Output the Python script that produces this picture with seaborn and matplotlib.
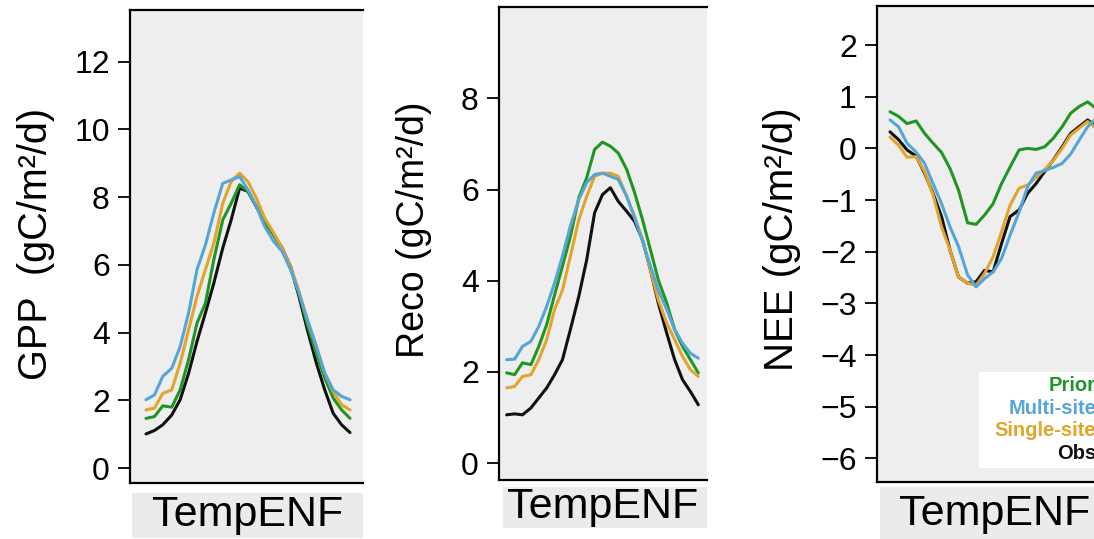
import matplotlib
matplotlib.use("Agg")
import matplotlib.pyplot as plt
import numpy as np
import pandas as pd
import seaborn as sns
from matplotlib.patches import Rectangle

# ---------------- data ----------------
doy = [1, 16, 31, 47, 62, 77, 92, 107, 122, 138, 153, 168, 183,
       198, 213, 229, 244, 259, 274, 289, 305, 320, 335, 350, 365]

runs = ["Obs", "Prior", "Single-site", "Multi-site"]
colors = {"Obs": "#111111", "Prior": "#1f9624", "Single-site": "#e2a42a", "Multi-site": "#55a5d6"}

gpp_obs = [1.01, 1.11, 1.28, 1.57, 2.02, 2.80, 3.74, 4.58, 5.46, 6.50, 7.33, 8.27, 8.17,
           7.72, 7.28, 6.89, 6.50, 5.95, 5.07, 4.08, 3.10, 2.31, 1.62, 1.28, 1.05]
gpp_prior = [1.47, 1.52, 1.84, 1.80, 2.31, 3.20, 4.28, 4.87, 6.15, 7.33, 7.82, 8.37, 8.17,
             7.72, 7.28, 6.89, 6.45, 5.95, 5.17, 4.23, 3.39, 2.66, 2.07, 1.72, 1.47]
gpp_single = [1.72, 1.77, 2.21, 2.31, 3.10, 4.08, 5.07, 5.86, 6.64, 7.82, 8.46, 8.71, 8.46,
              7.97, 7.38, 6.94, 6.50, 5.95, 5.21, 4.38, 3.59, 2.80, 2.26, 1.87, 1.72]
gpp_multi = [2.02, 2.16, 2.71, 2.95, 3.59, 4.58, 5.86, 6.59, 7.53, 8.41, 8.51, 8.61, 8.22,
             7.72, 7.13, 6.69, 6.40, 5.86, 5.17, 4.38, 3.59, 2.80, 2.31, 2.12, 2.02]

reco_obs = [1.06, 1.08, 1.06, 1.21, 1.43, 1.65, 1.94, 2.27, 2.93, 3.66, 4.46, 5.49, 5.89,
            6.04, 5.74, 5.52, 5.30, 4.90, 4.24, 3.51, 2.85, 2.27, 1.83, 1.57, 1.28]
reco_prior = [1.98, 1.94, 2.20, 2.16, 2.56, 3.04, 3.69, 4.32, 4.97, 5.82, 6.26, 6.88, 7.04,
              6.95, 6.80, 6.44, 5.93, 5.34, 4.68, 4.02, 3.51, 2.93, 2.56, 2.27, 1.98]
reco_single = [1.65, 1.68, 1.90, 1.94, 2.27, 2.71, 3.37, 3.80, 4.54, 5.34, 5.85, 6.29, 6.36,
               6.36, 6.29, 5.85, 5.41, 4.90, 4.24, 3.58, 3.07, 2.71, 2.34, 2.05, 1.90]
reco_multi = [2.27, 2.28, 2.56, 2.67, 3.00, 3.44, 3.95, 4.54, 5.20, 5.78, 6.15, 6.33, 6.36,
              6.29, 6.22, 5.85, 5.38, 4.87, 4.32, 3.80, 3.37, 2.93, 2.63, 2.41, 2.30]

nee_obs = [0.32, 0.17, -0.03, -0.15, -0.48, -0.87, -1.32, -1.97, -2.49, -2.61, -2.58, -2.36, -2.39,
           -1.84, -1.32, -1.19, -0.87, -0.68, -0.45, -0.23, 0.03, 0.29, 0.42, 0.55, 0.42]
nee_prior = [0.71, 0.62, 0.48, 0.53, 0.29, 0.10, -0.08, -0.39, -0.81, -1.44, -1.47, -1.29, -1.07,
             -0.68, -0.36, -0.03, 0.00, -0.02, 0.03, 0.19, 0.42, 0.68, 0.81, 0.90, 0.77]
nee_single = [0.22, 0.06, -0.17, -0.16, -0.45, -0.90, -1.52, -1.97, -2.49, -2.61, -2.65, -2.42, -2.10,
              -1.61, -1.10, -0.77, -0.71, -0.56, -0.41, -0.24, 0.00, 0.26, 0.39, 0.52, 0.39]
nee_multi = [0.55, 0.42, 0.10, -0.07, -0.29, -0.68, -1.07, -1.52, -1.90, -2.45, -2.68, -2.52, -2.39,
             -2.13, -1.68, -1.23, -0.74, -0.48, -0.43, -0.37, -0.29, -0.11, 0.16, 0.42, 0.58]

gpp_ticks = [0, 2, 4, 6, 8, 10, 12]
reco_ticks = [0, 2, 4, 6, 8]
nee_ticks = [-6, -5, -4, -3, -2, -1, 0, 1, 2]

strip_label = "TempENF"
ylabels = ["GPP  (gC/m\u00b2/d)", "Reco (gC/m\u00b2/d)", "NEE (gC/m\u00b2/d)"]
legend_labels = ["Prior", "Multi-site", "Single-site", "Obs"]

# ---------------- style ----------------
sns.set_style("ticks")
plt.rcParams["font.family"] = ["Liberation Sans", "DejaVu Sans"]
plt.rcParams["text.color"] = "black"
plt.rcParams["axes.labelcolor"] = "black"
plt.rcParams["ytick.color"] = "black"
plt.rcParams["xtick.color"] = "black"

W, H = 1094, 539
fig = plt.figure(figsize=(W / 100, H / 100), dpi=100)


def fx(px):
    return px / W


def fy(py):
    return 1 - py / H


def make_df(obs, prior, single, multi):
    frames = []
    for name, vals in zip(runs, [obs, prior, single, multi]):
        frames.append(pd.DataFrame({"doy": doy, "value": vals, "run": name}))
    return pd.concat(frames, ignore_index=True)


panels = [
    dict(box=(130, 9.6, 363, 482.7), data=make_df(gpp_obs, gpp_prior, gpp_single, gpp_multi),
         ylim=(-0.43, 13.54), xlim=(-27.5, 388.2), ticks=gpp_ticks,
         strip=(132, 493, 363, 538), text_xy=(247.5, 515), ylab_x=36, ylab_y=244, ylab_fs=28.5),
    dict(box=(499, 6.7, 707, 480), data=make_df(reco_obs, reco_prior, reco_single, reco_multi),
         ylim=(-0.37, 10.01), xlim=(-13.6, 381.5), ticks=reco_ticks,
         strip=(503, 487, 707, 528), text_xy=(603, 507), ylab_x=414, ylab_y=230, ylab_fs=27),
    dict(box=(877, 6.0, 1100, 481.7), data=make_df(nee_obs, nee_prior, nee_single, nee_multi),
         ylim=(-6.45, 2.755), xlim=(-22.0, 371.8), ticks=nee_ticks,
         strip=(880, 487, 1100, 539), text_xy=(995, 514), ylab_x=782, ylab_y=239, ylab_fs=29),
]

for i, p in enumerate(panels):
    l, t, r, b = p["box"]
    ax = fig.add_axes([fx(l), fy(b), fx(r - l), (b - t) / H])
    ax.set_facecolor("#eeeeee")
    sns.lineplot(data=p["data"], x="doy", y="value", hue="run", hue_order=runs,
                 palette=colors, linewidth=2.2, legend=False, ax=ax)
    ax.set_xlim(*p["xlim"])
    ax.set_ylim(*p["ylim"])
    ax.set_yticks(p["ticks"])
    ax.set_yticklabels([str(v).replace("-", "\u2212") for v in p["ticks"]])
    ax.set_xticks([])
    ax.set_xlabel("")
    ax.set_ylabel("")
    for side in ["top", "left", "bottom"]:
        ax.spines[side].set_visible(True)
        ax.spines[side].set_color("black")
        ax.spines[side].set_linewidth(1.6)
    ax.spines["right"].set_visible(False)
    ax.tick_params(axis="y", length=8.5, width=1.3, pad=6, labelsize=23, colors="black")
    # y label
    fig.text(fx(p["ylab_x"]), fy(p["ylab_y"]), ylabels[i], rotation=90,
             ha="center", va="center", fontsize=p["ylab_fs"])
    # strip
    sl, st, sr, sb = p["strip"]
    fig.patches.append(Rectangle((fx(sl), fy(sb)), fx(sr - sl), (sb - st) / H,
                                 transform=fig.transFigure, facecolor="#ebebeb",
                                 edgecolor="none", zorder=0))
    fig.text(fx(p["text_xy"][0]), fy(p["text_xy"][1]), strip_label,
             ha="center", va="center", fontsize=31)

# legend box in the NEE panel
fig.patches.append(Rectangle((fx(979), fy(468)), fx(130), (468 - 372) / H,
                             transform=fig.transFigure, facecolor="white",
                             edgecolor="none", zorder=5))
legend_colors = [colors["Prior"], colors["Multi-site"], colors["Single-site"], colors["Obs"]]
for lab, col, base in zip(legend_labels, legend_colors, [391, 413.6, 436.2, 458.8]):
    fig.text(fx(1096), fy(base), lab, ha="right", va="baseline", color=col,
             fontsize=14.5, fontweight="bold", zorder=6)

fig.savefig("out.png", dpi=100)
